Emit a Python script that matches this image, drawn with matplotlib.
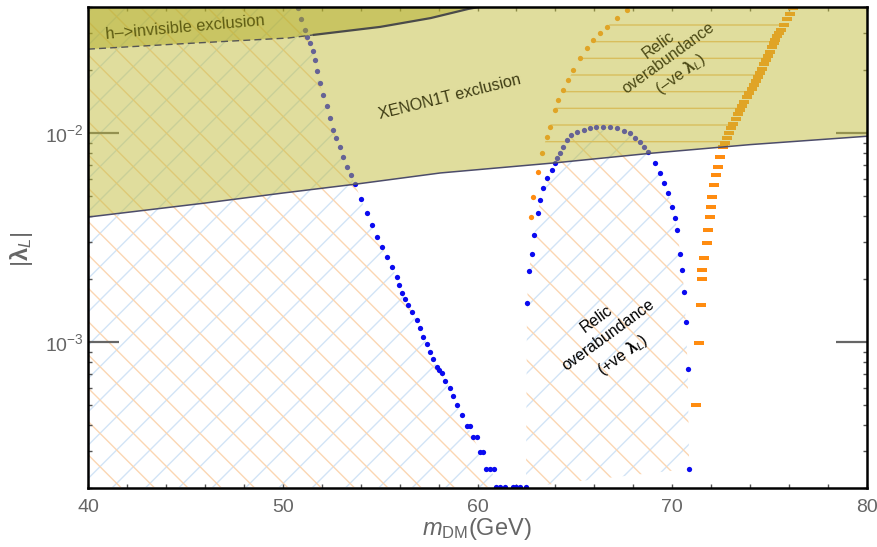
import matplotlib.pyplot as plt

plt.rcParams["font.family"] = "Liberation Sans"
plt.rcParams["mathtext.fontset"] = "custom"
plt.rcParams["mathtext.rm"] = "Liberation Sans"
plt.rcParams["mathtext.it"] = "Liberation Sans:italic"
plt.rcParams["mathtext.bf"] = "Liberation Sans:bold"
plt.rcParams["hatch.linewidth"] = 1.0

# XENON1T exclusion boundary (region above is excluded)
xenon_x = [40, 46, 50, 53.8, 58.1, 64, 68.9, 74, 80]
xenon_y = [3.96e-3, 4.62e-3, 5.16e-3, 5.7e-3, 6.44e-3, 7.2e-3, 8.0e-3, 8.8e-3, 9.65e-3]

# h -> invisible exclusion boundary (region above is excluded)
hinv_x = [40, 45, 50.3, 51.6, 55.0, 57.6, 59.5, 60.3]
hinv_y = [0.0252, 0.0268, 0.0285, 0.0295, 0.0322, 0.0355, 0.0392, 0.0405]
hinv_split = 3  # dashed up to this index, solid after

# relic line, +ve lambda_L, left branch
blue_left_x = [50.80, 50.96, 51.14, 51.27, 51.40, 51.53, 51.66, 51.78, 51.91,
               52.07, 52.26, 52.43, 52.60, 52.76, 52.94, 53.09, 53.28, 53.50,
               53.71, 54.02, 54.31, 54.58, 54.82, 55.10, 55.34, 55.61, 55.85,
               55.97, 56.11, 56.28, 56.45, 56.64, 56.87, 57.05, 57.22, 57.41,
               57.56, 57.72, 57.90, 58.03, 58.16, 58.33, 58.59, 58.76, 58.93,
               59.19, 59.45, 59.78, 60.13, 60.64, 61.16]
blue_left_y = [0.0395, 0.0351, 0.0311, 0.0288, 0.0269, 0.0247, 0.0223, 0.0198,
               0.0173, 0.0152, 0.0134, 0.0118, 0.0103, 9.46e-3, 8.6e-3, 7.68e-3,
               6.9e-3, 6.3e-3, 5.69e-3, 4.83e-3, 4.13e-3, 3.63e-3, 3.19e-3,
               2.85e-3, 2.56e-3, 2.28e-3, 2.05e-3, 1.87e-3, 1.71e-3, 1.61e-3,
               1.50e-3, 1.39e-3, 1.27e-3, 1.17e-3, 1.06e-3, 9.78e-4, 9.0e-4,
               8.29e-4, 7.6e-4, 7.35e-4, 7.1e-4, 6.5e-4, 6.0e-4, 5.5e-4,
               5.0e-4, 4.48e-4, 3.98e-4, 3.49e-4, 2.98e-4, 2.47e-4, 2.02e-4]
# extra dots of the flat streaks near the bottom
blue_streak_x = [59.6, 59.95, 60.3, 60.45, 60.85, 60.95, 61.4, 61.8, 62.0, 62.2]
blue_streak_y = [3.98e-4, 3.49e-4, 2.98e-4, 2.47e-4, 2.47e-4, 2.02e-4, 2.02e-4,
                 2.02e-4, 2.02e-4, 2.02e-4]

# relic line, +ve lambda_L, resonance arc
blue_arc_x = [62.49, 62.54, 62.64, 62.78, 62.92, 63.09, 63.21, 63.38, 63.59,
              63.81, 63.98, 64.1, 64.24, 64.4, 64.58, 64.8, 65.09, 65.45,
              65.78, 66.1, 66.46, 66.8, 67.15, 67.5, 67.83, 68.1, 68.34, 68.55,
              68.77, 69.11, 69.37, 69.58, 69.80, 69.97, 70.14, 70.26, 70.40,
              70.51, 70.60, 70.70, 70.79, 70.87]
blue_arc_y = [2.02e-4, 1.54e-3, 2.19e-3, 2.65e-3, 3.25e-3, 4.13e-3, 4.78e-3,
              5.43e-3, 6.07e-3, 6.65e-3, 7.16e-3, 7.6e-3, 8.0e-3, 8.6e-3,
              9.26e-3, 9.75e-3, 0.01014, 0.01036, 0.01054, 0.01066, 0.01072,
              0.01068, 0.01054, 0.01028, 9.96e-3, 9.5e-3, 9.08e-3, 8.6e-3,
              8.14e-3, 7.16e-3, 6.41e-3, 5.74e-3, 5.14e-3, 4.44e-3, 3.91e-3,
              3.44e-3, 2.65e-3, 2.21e-3, 1.74e-3, 1.24e-3, 7.43e-4, 2.47e-4]

# relic line, -ve lambda_L, left branch
orange_left_x = [62.75, 62.85, 63.11, 63.30, 63.55, 63.72, 63.98, 64.15, 64.41,
                 64.66, 64.92, 65.26, 65.60, 65.95, 66.29, 66.63, 67.15, 67.66]
orange_left_y = [3.96e-3, 4.94e-3, 6.5e-3, 8.0e-3, 9.6e-3, 0.01072, 0.0129,
                 0.0144, 0.0161, 0.0179, 0.0200, 0.0228, 0.0254, 0.0279,
                 0.0300, 0.0323, 0.0354, 0.0388]

# relic line, -ve lambda_L, right branch (dense band at the top)
orange_right_x = [76.2, 76.05, 75.9, 75.75, 75.6, 75.5, 75.4, 75.3, 75.2, 75.1,
                  75.0, 74.9, 74.8, 74.7, 74.6, 74.5, 74.4, 74.3, 74.2, 74.08,
                  73.95, 73.82, 73.7, 73.6, 73.5, 73.38, 73.25, 73.12, 73.0,
                  72.9, 72.8, 72.7, 72.6, 72.45, 72.35, 72.25, 72.15, 72.05,
                  72.0, 71.95, 71.85, 71.8, 71.65, 71.55, 71.55, 71.5, 71.35,
                  71.2]
orange_right_y = [0.0396, 0.0372, 0.0350, 0.0330, 0.0311, 0.0300, 0.0290,
                  0.0280, 0.0270, 0.0257, 0.0245, 0.0234, 0.0223, 0.0213,
                  0.0203, 0.0194, 0.0185, 0.0177, 0.0170, 0.0162, 0.0155,
                  0.0148, 0.0141, 0.0135, 0.0129, 0.0123, 0.0117, 0.0111,
                  0.01057, 0.0100, 9.5e-3, 9.0e-3, 8.57e-3, 7.68e-3, 6.87e-3,
                  6.29e-3, 5.64e-3, 4.94e-3, 4.43e-3, 3.96e-3, 3.43e-3, 2.98e-3,
                  2.52e-3, 2.21e-3, 2.00e-3, 1.50e-3, 9.9e-4, 5.0e-4]
band_end = 33  # rows of the dense band, top to ~8.6e-3

x_ticks = [40, 50, 60, 70, 80]
y_ticks = [1e-3, 1e-2]
y_tick_labels = ["$10^{-3}$", "$10^{-2}$"]

mesh_blue = "#d2e4f6"
mesh_orange = "#fbd6b2"
gray = "#666666"

fig = plt.figure(figsize=(8.78, 5.47), dpi=100)
ax = fig.add_axes([0.1002, 0.1079, 0.8873, 0.8793])
ax.set_yscale("log")
ax.set_xlim(40, 80)
ax.set_ylim(2.0e-4, 0.0401)

# mesh of the parameter scan (drawn as light hatching)
for col, hatch in [(mesh_blue, "/"), (mesh_orange, "\\")]:
    ax.fill_betweenx(blue_left_y, 40, blue_left_x, facecolor="none",
                     edgecolor=col, hatch=hatch, lw=0, zorder=1)
    ax.fill(blue_arc_x, blue_arc_y, facecolor="none", edgecolor=col,
            hatch=hatch, lw=0, zorder=1)
ax.fill(orange_left_x[3:] + orange_right_x[:band_end],
        orange_left_y[3:] + orange_right_y[:band_end],
        facecolor="none", edgecolor="#f0c080", hatch="-", lw=0, zorder=1)

# relic density points
ax.plot(blue_left_x + blue_streak_x, blue_left_y + blue_streak_y, "o",
        color="#0a0af0", ms=3.8, mew=0, zorder=2)
ax.plot(blue_arc_x, blue_arc_y, "o", color="#0a0af0", ms=3.8, mew=0, zorder=2)
ax.plot(orange_left_x, orange_left_y, "o", color="#ff8c10", ms=3.8, mew=0,
        zorder=2)
dash = [(-2, -0.7), (2, -0.7), (2, 0.7), (-2, 0.7)]
ax.plot(orange_right_x, orange_right_y, ls="none", marker=dash, color="#ff8c10",
        ms=7.5, mew=0, zorder=2)

# exclusion regions
ax.fill_between(xenon_x, xenon_y, 0.0401, facecolor="#c2bd3c", alpha=0.5,
                lw=0, zorder=3)
ax.plot(xenon_x, xenon_y, color="#4c4c6a", lw=1.1, zorder=4)
ax.fill_between(hinv_x, hinv_y, 0.0401, facecolor="#aea81e", alpha=0.45,
                lw=0, zorder=3)
ax.plot(hinv_x[:hinv_split + 1], hinv_y[:hinv_split + 1], color="#555555",
        lw=1.0, ls=(0, (5, 3)), zorder=4)
ax.plot(hinv_x[hinv_split:], hinv_y[hinv_split:], color="#4a4a4a", lw=1.6,
        zorder=4)

# labels on the plot
ax.text(45.0, 0.0318, "h\u2013>invisible exclusion", fontsize=11.8,
        color="#5e5c12", rotation=5, ha="center", va="center", zorder=5)
ax.text(58.6, 0.0148, "XENON1T exclusion", fontsize=11.5, color="#3e3c14",
        rotation=14, ha="center", va="center", zorder=5)
ax.text(69.9, 0.0222, "Relic\noverabundance\n(\u2013ve $\\mathbf{\\lambda}_L$)",
        fontsize=11.5, color="#4a4814", rotation=36, ha="center", va="center",
        multialignment="center", linespacing=1.15, zorder=5)
ax.text(66.8, 1.05e-3, "Relic\noverabundance\n(+ve $\\mathbf{\\lambda}_L$)",
        fontsize=11.5, color="black", rotation=36, ha="center", va="center",
        multialignment="center", linespacing=1.45, zorder=5)

# axes styling
ax.set_xticks(x_ticks)
ax.set_xticks(range(40, 81, 2), minor=True)
ax.set_yticks(y_ticks)
ax.set_yticklabels(y_tick_labels)
ax.tick_params(axis="x", which="both", direction="in", length=3, width=1,
               color="#555555", top=True, labelsize=14, labelcolor=gray, pad=8)
ax.tick_params(axis="y", which="major", direction="in", length=22, width=1.6,
               color="#666666", right=True, labelsize=14, labelcolor=gray, pad=3)
ax.tick_params(axis="y", which="minor", direction="in", length=3, width=1,
               color="#555555", right=True, labelleft=False)
for s in ax.spines.values():
    s.set_linewidth(1.8)
    s.set_zorder(6)

ax.set_xlabel("$m_{\\rm DM}$(GeV)", fontsize=17, color=gray)
ax.xaxis.set_label_coords(0.4987, -0.058)
ax.set_ylabel("$|\\mathbf{\\lambda}_L|$", fontsize=17, color=gray)
ax.yaxis.set_label_coords(-0.068, 0.497)

fig.savefig("out.png", dpi=100)
